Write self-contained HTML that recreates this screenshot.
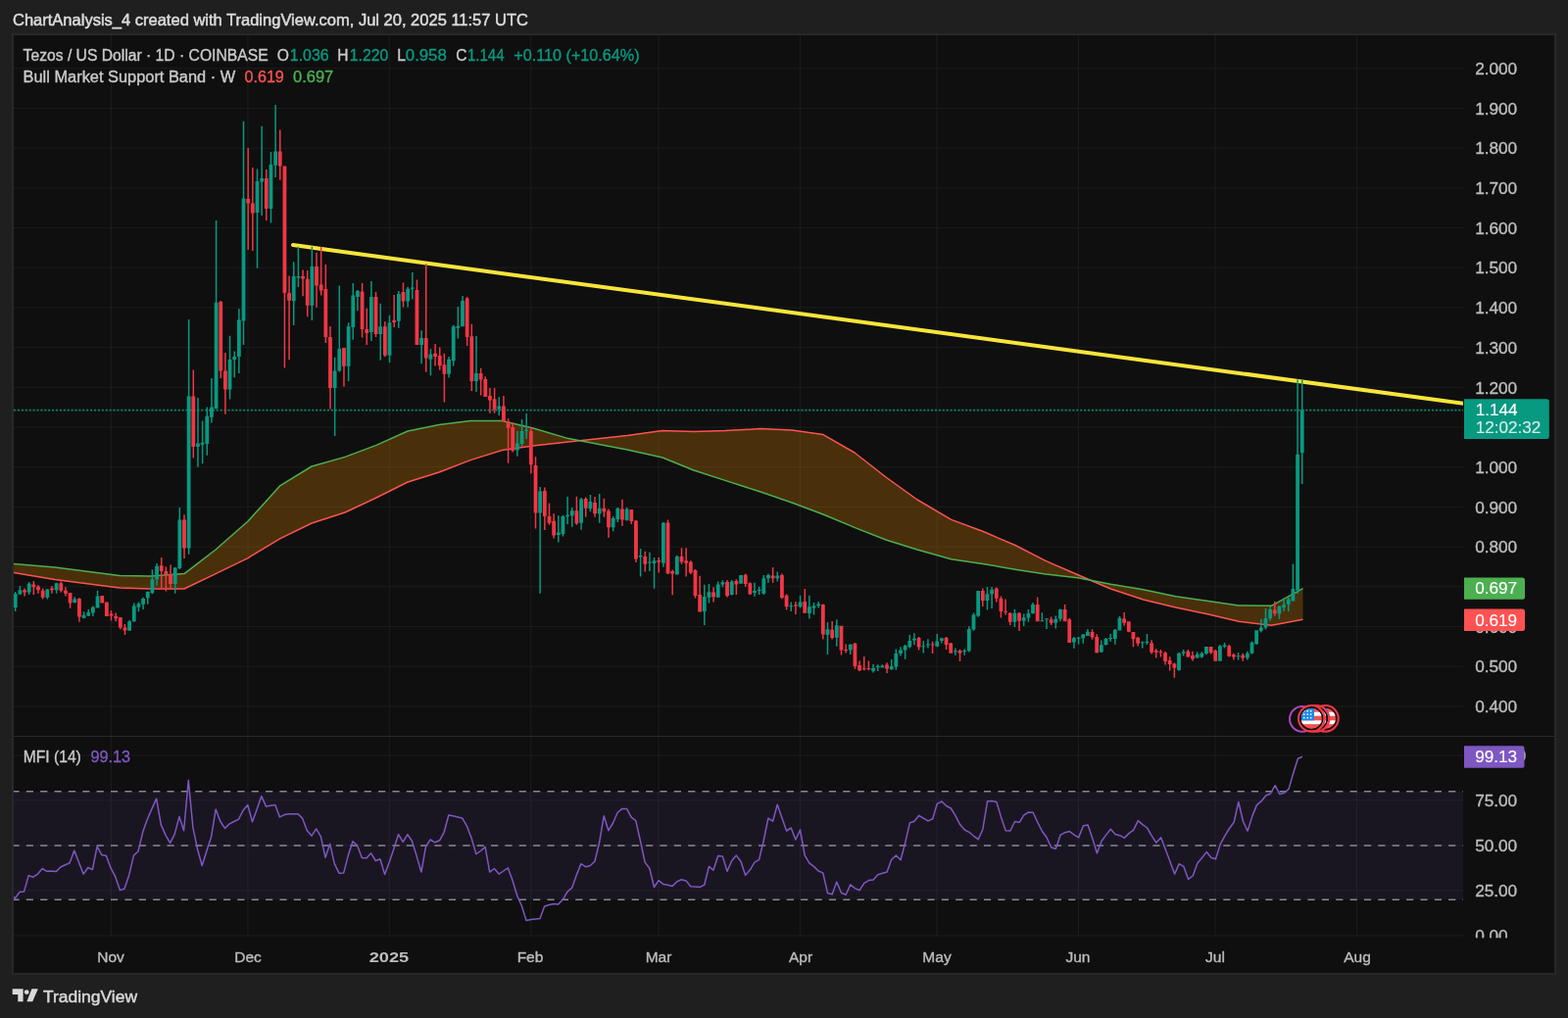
<!DOCTYPE html><html><head><meta charset="utf-8"><title>Tezos / US Dollar chart</title>
<style>
html,body{margin:0;padding:0;background:#1f1f1f;width:1600px;height:1039px;overflow:hidden}
svg{position:absolute;left:0;top:0;display:block}
text{font-family:"Liberation Sans", Arial, sans-serif}
.b{stroke-width:0.35px;paint-order:stroke}
</style></head><body>
<svg width="1600" height="1039" viewBox="0 0 1600 1039">
<defs>
<clipPath id="cp"><rect x="14" y="36" width="1479" height="715"/></clipPath>
<clipPath id="cm"><rect x="14" y="752" width="1479" height="205"/></clipPath>
<clipPath id="cma"><rect x="1493" y="752" width="93" height="205.29999999999995"/></clipPath>
</defs>
<rect x="0" y="0" width="1600" height="1039" fill="#1f1f1f"/>
<rect x="12" y="34" width="1576" height="961" fill="#282828"/>
<rect x="14" y="36" width="1572" height="957" fill="#0f0f0f"/>

<text x="13" y="26" font-size="16.5" fill="#dcdcdc" stroke="#dcdcdc" stroke-width="0.5" textLength="526" lengthAdjust="spacingAndGlyphs">ChartAnalysis_4 created with TradingView.com, Jul 20, 2025 11:57 UTC</text>
<path d="M14 720.84H1493 M14 680.15H1493 M14 639.46H1493 M14 598.77H1493 M14 558.08H1493 M14 517.39H1493 M14 476.70H1493 M14 436.01H1493 M14 395.32H1493 M14 354.63H1493 M14 313.94H1493 M14 273.25H1493 M14 232.56H1493 M14 191.87H1493 M14 151.18H1493 M14 110.49H1493 M14 69.80H1493 M14 954.9H1493 M14 908.9H1493 M14 862.9H1493 M14 816.9H1493 M14 770.9H1493 M113.30 36V955.5 M252.98 36V955.5 M397.32 36V955.5 M541.65 36V955.5 M672.02 36V955.5 M816.36 36V955.5 M956.04 36V955.5 M1100.37 36V955.5 M1240.05 36V955.5 M1384.39 36V955.5" stroke="#1d1d1d" stroke-width="1" fill="none"/>
<g clip-path="url(#cp)">
<polygon points="14.0,575.6 56.0,579.0 122.0,587.6 154.0,588.0 188.0,585.6 220.0,561.0 253.0,532.0 286.0,495.6 318.0,476.0 352.0,466.4 384.0,454.4 416.0,440.0 448.0,433.6 480.0,429.6 512.0,429.6 544.0,437.0 580.0,447.6 640.0,459.0 676.0,467.0 708.0,480.0 740.0,490.4 776.0,502.0 808.0,513.0 840.0,525.0 872.0,538.4 904.0,551.0 936.0,561.0 970.7,570.8 1002.8,575.5 1036.0,581.2 1066.9,586.0 1100.0,589.8 1133.4,596.2 1166.6,601.7 1199.9,608.8 1233.2,613.5 1264.0,618.0 1297.3,618.3 1329.5,600.6 1329.5,632.3 1297.3,638.3 1264.0,634.2 1233.2,627.0 1199.9,620.0 1166.6,612.0 1133.4,601.0 1100.0,586.7 1066.9,572.4 1036.0,556.5 1002.8,542.3 970.7,530.4 936.0,510.0 904.0,487.0 872.0,462.0 840.0,443.6 808.0,439.0 776.0,437.6 740.0,439.6 708.0,440.4 676.0,439.6 640.0,444.4 580.0,451.0 544.0,455.0 512.0,459.6 480.0,469.6 448.0,482.0 416.0,492.0 384.0,508.0 352.0,523.0 318.0,534.0 286.0,549.6 253.0,569.6 220.0,585.6 188.0,601.0 154.0,601.0 122.0,600.0 56.0,591.6 14.0,584.4" fill="#ff9800" fill-opacity="0.245"/>
<polyline points="14.0,584.4 56.0,591.6 122.0,600.0 154.0,601.0 188.0,601.0 220.0,585.6 253.0,569.6 286.0,549.6 318.0,534.0 352.0,523.0 384.0,508.0 416.0,492.0 448.0,482.0 480.0,469.6 512.0,459.6 544.0,455.0 580.0,451.0 640.0,444.4 676.0,439.6 708.0,440.4 740.0,439.6 776.0,437.6 808.0,439.0 840.0,443.6 872.0,462.0 904.0,487.0 936.0,510.0 970.7,530.4 1002.8,542.3 1036.0,556.5 1066.9,572.4 1100.0,586.7 1133.4,601.0 1166.6,612.0 1199.9,620.0 1233.2,627.0 1264.0,634.2 1297.3,638.3 1329.5,632.3" fill="none" stroke="#ff5252" stroke-width="1.5" stroke-linejoin="round"/>
<polyline points="14.0,575.6 56.0,579.0 122.0,587.6 154.0,588.0 188.0,585.6 220.0,561.0 253.0,532.0 286.0,495.6 318.0,476.0 352.0,466.4 384.0,454.4 416.0,440.0 448.0,433.6 480.0,429.6 512.0,429.6 544.0,437.0 580.0,447.6 640.0,459.0 676.0,467.0 708.0,480.0 740.0,490.4 776.0,502.0 808.0,513.0 840.0,525.0 872.0,538.4 904.0,551.0 936.0,561.0 970.7,570.8 1002.8,575.5 1036.0,581.2 1066.9,586.0 1100.0,589.8 1133.4,596.2 1166.6,601.7 1199.9,608.8 1233.2,613.5 1264.0,618.0 1297.3,618.3 1329.5,600.6" fill="none" stroke="#4caf50" stroke-width="1.5" stroke-linejoin="round"/>
<line x1="14" y1="418.6" x2="1493" y2="418.6" stroke="#089981" stroke-opacity="0.85" stroke-width="1.6" stroke-dasharray="2.2 1.7"/>
<line x1="299" y1="250.1" x2="1500" y2="412.8" stroke="#f9e53b" stroke-width="4" stroke-linecap="round"/>
<path d="M14.97 604.0h1.5V624.0h-1.5Z M13.82 606.0h3.8V620.0h-3.8Z M19.63 598.1h1.5V607.0h-1.5Z M18.48 602.2h3.8V606.5h-3.8Z M28.94 594.0h1.5V606.9h-1.5Z M27.79 595.8h3.8V604.5h-3.8Z M47.57 601.0h1.5V611.5h-1.5Z M46.42 601.6h3.8V609.8h-3.8Z M56.88 594.7h1.5V605.7h-1.5Z M55.73 595.2h3.8V602.2h-3.8Z M75.50 609.2h1.5V615.6h-1.5Z M74.35 611.5h3.8V615.0h-3.8Z M84.81 624.3h1.5V631.3h-1.5Z M83.66 627.8h3.8V630.7h-3.8Z M89.47 622.0h1.5V629.0h-1.5Z M88.32 624.9h3.8V628.4h-3.8Z M94.13 618.5h1.5V629.0h-1.5Z M92.98 619.7h3.8V625.5h-3.8Z M98.78 602.8h1.5V620.8h-1.5Z M97.63 608.6h3.8V620.2h-3.8Z M131.37 633.0h1.5V644.0h-1.5Z M130.22 634.2h3.8V643.5h-3.8Z M136.03 615.6h1.5V634.8h-1.5Z M134.88 618.5h3.8V634.2h-3.8Z M140.69 614.4h1.5V624.3h-1.5Z M139.54 616.2h3.8V619.7h-3.8Z M145.34 609.8h1.5V622.0h-1.5Z M144.19 611.0h3.8V616.7h-3.8Z M150.00 603.4h1.5V616.7h-1.5Z M148.85 604.0h3.8V610.3h-3.8Z M154.65 581.3h1.5V606.3h-1.5Z M153.50 591.2h3.8V605.1h-3.8Z M159.31 574.9h1.5V597.6h-1.5Z M158.16 577.8h3.8V591.2h-3.8Z M177.93 579.0h1.5V605.7h-1.5Z M176.78 579.5h3.8V596.0h-3.8Z M182.59 518.0h1.5V581.0h-1.5Z M181.44 530.5h3.8V580.0h-3.8Z M191.90 326.0h1.5V565.8h-1.5Z M190.75 404.6h3.8V559.4h-3.8Z M201.21 406.0h1.5V476.8h-1.5Z M200.06 452.5h3.8V456.0h-3.8Z M205.87 429.4h1.5V473.3h-1.5Z M204.72 451.7h3.8V453.7h-3.8Z M210.53 415.6h1.5V464.7h-1.5Z M209.38 424.8h3.8V453.0h-3.8Z M215.18 386.0h1.5V431.4h-1.5Z M214.03 415.6h3.8V425.7h-3.8Z M219.84 225.0h1.5V417.5h-1.5Z M218.69 308.7h3.8V417.0h-3.8Z M233.81 342.8h1.5V407.5h-1.5Z M232.66 367.0h3.8V397.6h-3.8Z M238.46 358.4h1.5V385.2h-1.5Z M237.31 364.0h3.8V367.0h-3.8Z M243.12 315.0h1.5V381.0h-1.5Z M241.97 326.6h3.8V364.0h-3.8Z M247.77 123.8h1.5V352.0h-1.5Z M246.62 202.5h3.8V327.5h-3.8Z M261.74 172.5h1.5V273.8h-1.5Z M260.59 185.0h3.8V217.0h-3.8Z M266.40 128.8h1.5V220.0h-1.5Z M265.25 182.0h3.8V185.5h-3.8Z M275.71 155.0h1.5V227.5h-1.5Z M274.56 168.0h3.8V213.0h-3.8Z M280.37 107.0h1.5V181.0h-1.5Z M279.22 154.5h3.8V168.8h-3.8Z M298.99 267.3h1.5V332.0h-1.5Z M297.84 282.0h3.8V307.3h-3.8Z M303.65 251.7h1.5V293.0h-1.5Z M302.50 282.0h3.8V283.4h-3.8Z M317.61 251.7h1.5V326.9h-1.5Z M316.46 272.0h3.8V311.7h-3.8Z M340.89 364.8h1.5V445.0h-1.5Z M339.74 378.4h3.8V396.0h-3.8Z M345.55 291.5h1.5V379.4h-1.5Z M344.40 356.0h3.8V378.4h-3.8Z M354.86 329.3h1.5V389.0h-1.5Z M353.71 333.3h3.8V373.7h-3.8Z M359.52 288.9h1.5V346.7h-1.5Z M358.37 301.6h3.8V334.0h-3.8Z M364.17 296.0h1.5V317.2h-1.5Z M363.02 297.0h3.8V303.0h-3.8Z M378.14 286.9h1.5V348.0h-1.5Z M376.99 303.0h3.8V339.0h-3.8Z M387.45 309.7h1.5V367.7h-1.5Z M386.30 333.3h3.8V341.0h-3.8Z M396.77 321.8h1.5V370.3h-1.5Z M395.62 329.3h3.8V362.8h-3.8Z M406.08 296.9h1.5V334.8h-1.5Z M404.93 300.0h3.8V327.8h-3.8Z M415.39 292.8h1.5V313.6h-1.5Z M414.24 294.8h3.8V307.6h-3.8Z M420.05 277.9h1.5V305.6h-1.5Z M418.90 293.4h3.8V294.8h-3.8Z M429.36 337.3h1.5V371.2h-1.5Z M428.21 345.0h3.8V352.0h-3.8Z M438.67 356.0h1.5V383.3h-1.5Z M437.52 361.5h3.8V366.8h-3.8Z M457.29 364.0h1.5V385.4h-1.5Z M456.14 366.8h3.8V381.7h-3.8Z M461.95 331.8h1.5V373.6h-1.5Z M460.80 333.2h3.8V368.2h-3.8Z M466.61 313.0h1.5V345.4h-1.5Z M465.46 332.8h3.8V334.8h-3.8Z M471.26 302.1h1.5V333.2h-1.5Z M470.11 307.0h3.8V333.2h-3.8Z M485.23 343.0h1.5V400.0h-1.5Z M484.08 381.0h3.8V389.0h-3.8Z M508.51 405.0h1.5V424.0h-1.5Z M507.36 414.6h3.8V417.7h-3.8Z M527.13 440.0h1.5V465.7h-1.5Z M525.98 452.5h3.8V459.6h-3.8Z M531.79 427.9h1.5V455.6h-1.5Z M530.64 440.0h3.8V453.0h-3.8Z M536.45 421.8h1.5V448.0h-1.5Z M535.30 438.8h3.8V440.0h-3.8Z M550.41 497.0h1.5V605.7h-1.5Z M549.26 501.4h3.8V523.6h-3.8Z M569.04 526.3h1.5V553.5h-1.5Z M567.89 543.4h3.8V545.9h-3.8Z M573.69 525.7h1.5V547.5h-1.5Z M572.54 526.9h3.8V545.0h-3.8Z M578.35 507.0h1.5V535.0h-1.5Z M577.20 525.7h3.8V526.9h-3.8Z M583.01 518.0h1.5V537.8h-1.5Z M581.86 521.2h3.8V526.3h-3.8Z M592.32 508.0h1.5V540.4h-1.5Z M591.17 509.5h3.8V533.7h-3.8Z M601.63 505.0h1.5V522.2h-1.5Z M600.48 512.0h3.8V519.2h-3.8Z M610.94 504.0h1.5V533.7h-1.5Z M609.79 518.8h3.8V524.2h-3.8Z M624.91 527.0h1.5V542.2h-1.5Z M623.76 528.9h3.8V538.3h-3.8Z M629.57 518.0h1.5V532.9h-1.5Z M628.42 518.8h3.8V530.3h-3.8Z M638.88 518.0h1.5V531.5h-1.5Z M637.73 519.5h3.8V531.0h-3.8Z M652.85 560.0h1.5V588.4h-1.5Z M651.70 567.0h3.8V568.6h-3.8Z M662.16 563.8h1.5V583.0h-1.5Z M661.01 573.4h3.8V574.4h-3.8Z M666.81 569.0h1.5V600.8h-1.5Z M665.66 572.2h3.8V575.0h-3.8Z M676.13 533.0h1.5V578.7h-1.5Z M674.98 533.5h3.8V574.8h-3.8Z M690.09 566.7h1.5V586.6h-1.5Z M688.94 567.9h3.8V586.4h-3.8Z M718.03 596.8h1.5V637.9h-1.5Z M716.88 609.0h3.8V623.9h-3.8Z M722.69 596.0h1.5V615.5h-1.5Z M721.54 604.3h3.8V609.7h-3.8Z M732.00 593.4h1.5V610.0h-1.5Z M730.85 596.6h3.8V609.8h-3.8Z M736.65 592.3h1.5V599.3h-1.5Z M735.50 594.3h3.8V596.6h-3.8Z M745.97 592.0h1.5V607.4h-1.5Z M744.82 593.4h3.8V607.1h-3.8Z M755.28 587.0h1.5V595.7h-1.5Z M754.13 587.0h3.8V595.7h-3.8Z M769.25 594.7h1.5V608.8h-1.5Z M768.10 603.0h3.8V605.0h-3.8Z M773.90 598.8h1.5V607.1h-1.5Z M772.75 601.8h3.8V603.0h-3.8Z M778.56 587.0h1.5V606.9h-1.5Z M777.41 590.3h3.8V605.8h-3.8Z M783.21 585.6h1.5V594.7h-1.5Z M782.06 587.0h3.8V590.3h-3.8Z M792.53 583.6h1.5V593.4h-1.5Z M791.38 587.6h3.8V590.3h-3.8Z M806.49 614.5h1.5V624.0h-1.5Z M805.34 618.2h3.8V619.3h-3.8Z M815.81 607.8h1.5V620.6h-1.5Z M814.66 614.5h3.8V619.3h-3.8Z M825.12 607.8h1.5V631.4h-1.5Z M823.97 619.3h3.8V626.0h-3.8Z M829.77 615.0h1.5V627.6h-1.5Z M828.62 618.2h3.8V620.6h-3.8Z M834.43 614.0h1.5V620.6h-1.5Z M833.28 616.6h3.8V618.2h-3.8Z M843.74 635.1h1.5V667.9h-1.5Z M842.59 642.2h3.8V648.1h-3.8Z M853.05 632.2h1.5V659.7h-1.5Z M851.90 638.3h3.8V650.8h-3.8Z M867.02 657.3h1.5V667.9h-1.5Z M865.87 657.7h3.8V663.5h-3.8Z M890.30 678.0h1.5V686.4h-1.5Z M889.15 681.8h3.8V684.7h-3.8Z M894.96 678.2h1.5V684.9h-1.5Z M893.81 679.7h3.8V681.3h-3.8Z M899.61 678.2h1.5V681.6h-1.5Z M898.46 679.4h3.8V681.3h-3.8Z M908.93 673.0h1.5V683.7h-1.5Z M907.78 680.0h3.8V683.3h-3.8Z M913.58 662.6h1.5V683.7h-1.5Z M912.43 666.9h3.8V680.4h-3.8Z M918.24 660.2h1.5V669.5h-1.5Z M917.09 663.5h3.8V666.9h-3.8Z M922.89 657.9h1.5V672.7h-1.5Z M921.74 658.9h3.8V663.5h-3.8Z M927.55 647.9h1.5V661.6h-1.5Z M926.40 654.0h3.8V660.2h-3.8Z M932.21 646.2h1.5V658.2h-1.5Z M931.06 651.8h3.8V653.4h-3.8Z M941.52 653.9h1.5V666.4h-1.5Z M940.37 659.2h3.8V660.2h-3.8Z M946.17 652.2h1.5V661.6h-1.5Z M945.02 657.6h3.8V658.6h-3.8Z M955.49 647.0h1.5V660.3h-1.5Z M954.34 654.5h3.8V659.8h-3.8Z M960.14 650.8h1.5V656.6h-1.5Z M958.99 651.6h3.8V654.0h-3.8Z M974.11 661.4h1.5V668.7h-1.5Z M972.96 664.3h3.8V665.3h-3.8Z M983.42 662.2h1.5V668.7h-1.5Z M982.27 664.1h3.8V665.1h-3.8Z M988.08 639.3h1.5V665.6h-1.5Z M986.93 642.0h3.8V664.3h-3.8Z M992.73 625.4h1.5V643.7h-1.5Z M991.58 627.5h3.8V642.5h-3.8Z M997.39 603.0h1.5V629.7h-1.5Z M996.24 603.0h3.8V628.5h-3.8Z M1006.70 598.9h1.5V622.5h-1.5Z M1005.55 606.2h3.8V612.9h-3.8Z M1011.36 598.9h1.5V621.0h-1.5Z M1010.21 601.7h3.8V606.2h-3.8Z M1034.64 621.8h1.5V639.9h-1.5Z M1033.49 625.8h3.8V634.8h-3.8Z M1043.95 626.6h1.5V639.1h-1.5Z M1042.80 630.2h3.8V633.8h-3.8Z M1048.61 622.0h1.5V634.8h-1.5Z M1047.46 626.1h3.8V630.4h-3.8Z M1053.26 615.0h1.5V626.6h-1.5Z M1052.11 617.1h3.8V626.1h-3.8Z M1062.57 625.2h1.5V634.2h-1.5Z M1061.42 633.2h3.8V634.2h-3.8Z M1067.23 631.3h1.5V641.9h-1.5Z M1066.08 631.3h3.8V632.3h-3.8Z M1076.54 628.4h1.5V641.6h-1.5Z M1075.39 631.8h3.8V635.8h-3.8Z M1081.20 621.4h1.5V634.2h-1.5Z M1080.05 622.0h3.8V631.8h-3.8Z M1095.17 649.9h1.5V661.8h-1.5Z M1094.02 651.2h3.8V655.6h-3.8Z M1099.82 650.0h1.5V657.7h-1.5Z M1098.67 650.8h3.8V651.8h-3.8Z M1104.48 647.0h1.5V656.8h-1.5Z M1103.33 647.4h3.8V651.2h-3.8Z M1109.13 641.9h1.5V649.1h-1.5Z M1107.98 644.8h3.8V648.9h-3.8Z M1123.10 653.4h1.5V665.9h-1.5Z M1121.95 658.2h3.8V665.6h-3.8Z M1127.76 651.0h1.5V658.5h-1.5Z M1126.61 652.0h3.8V658.2h-3.8Z M1132.41 647.0h1.5V654.7h-1.5Z M1131.26 651.0h3.8V652.0h-3.8Z M1137.07 641.9h1.5V657.7h-1.5Z M1135.92 642.8h3.8V652.0h-3.8Z M1141.73 629.0h1.5V643.5h-1.5Z M1140.58 630.8h3.8V643.5h-3.8Z M1165.01 654.4h1.5V661.6h-1.5Z M1163.86 655.3h3.8V656.3h-3.8Z M1169.66 647.0h1.5V658.1h-1.5Z M1168.51 654.8h3.8V656.0h-3.8Z M1202.25 665.8h1.5V684.6h-1.5Z M1201.10 666.8h3.8V684.1h-3.8Z M1206.91 662.9h1.5V669.5h-1.5Z M1205.76 665.3h3.8V666.8h-3.8Z M1220.88 665.3h1.5V671.8h-1.5Z M1219.73 667.7h3.8V671.6h-3.8Z M1225.53 665.3h1.5V671.6h-1.5Z M1224.38 666.8h3.8V670.6h-3.8Z M1230.19 660.0h1.5V668.2h-1.5Z M1229.04 660.0h3.8V667.0h-3.8Z M1244.16 657.9h1.5V674.7h-1.5Z M1243.01 659.6h3.8V674.7h-3.8Z M1248.81 656.0h1.5V661.5h-1.5Z M1247.66 658.6h3.8V659.9h-3.8Z M1262.78 666.0h1.5V673.5h-1.5Z M1261.63 669.2h3.8V670.2h-3.8Z M1272.09 664.7h1.5V673.5h-1.5Z M1270.94 666.8h3.8V671.6h-3.8Z M1276.75 654.5h1.5V667.6h-1.5Z M1275.60 655.7h3.8V666.8h-3.8Z M1281.41 643.2h1.5V658.1h-1.5Z M1280.26 643.2h3.8V657.2h-3.8Z M1286.06 632.0h1.5V645.5h-1.5Z M1284.91 640.4h3.8V643.8h-3.8Z M1290.72 620.9h1.5V642.6h-1.5Z M1289.57 631.0h3.8V640.4h-3.8Z M1295.37 619.0h1.5V633.7h-1.5Z M1294.22 622.1h3.8V631.2h-3.8Z M1304.69 618.3h1.5V631.7h-1.5Z M1303.54 618.7h3.8V626.4h-3.8Z M1309.34 610.5h1.5V623.7h-1.5Z M1308.19 617.3h3.8V619.9h-3.8Z M1314.00 609.6h1.5V624.0h-1.5Z M1312.85 611.5h3.8V616.8h-3.8Z M1318.65 575.6h1.5V613.4h-1.5Z M1317.50 600.9h3.8V613.4h-3.8Z M1323.31 387.3h1.5V606.0h-1.5Z M1322.16 463.8h3.8V602.4h-3.8Z M1327.97 387.4h1.5V494.0h-1.5Z M1326.82 418.3h3.8V462.3h-3.8Z" fill="#089981"/>
<path d="M24.29 600.5h1.5V608.6h-1.5Z M23.14 602.2h3.8V604.5h-3.8Z M33.60 592.9h1.5V606.9h-1.5Z M32.45 596.4h3.8V599.3h-3.8Z M38.25 597.0h1.5V605.7h-1.5Z M37.10 598.7h3.8V602.2h-3.8Z M42.91 600.5h1.5V611.5h-1.5Z M41.76 602.8h3.8V609.8h-3.8Z M52.22 598.0h1.5V605.7h-1.5Z M51.07 600.5h3.8V602.2h-3.8Z M61.53 593.5h1.5V604.5h-1.5Z M60.38 595.2h3.8V602.8h-3.8Z M66.19 599.3h1.5V608.6h-1.5Z M65.04 602.8h3.8V605.7h-3.8Z M70.85 605.0h1.5V620.8h-1.5Z M69.70 605.0h3.8V615.6h-3.8Z M80.16 610.3h1.5V634.8h-1.5Z M79.01 611.0h3.8V629.5h-3.8Z M103.44 608.0h1.5V615.6h-1.5Z M102.29 608.0h3.8V615.6h-3.8Z M108.09 614.4h1.5V629.0h-1.5Z M106.94 614.4h3.8V629.0h-3.8Z M112.75 623.0h1.5V633.6h-1.5Z M111.60 626.6h3.8V628.4h-3.8Z M117.41 625.5h1.5V634.2h-1.5Z M116.26 629.0h3.8V631.3h-3.8Z M122.06 630.1h1.5V642.3h-1.5Z M120.91 630.1h3.8V640.6h-3.8Z M126.72 637.0h1.5V648.0h-1.5Z M125.57 640.6h3.8V643.5h-3.8Z M163.97 569.0h1.5V601.6h-1.5Z M162.82 577.2h3.8V583.0h-3.8Z M168.62 578.4h1.5V603.4h-1.5Z M167.47 583.0h3.8V586.5h-3.8Z M173.28 576.6h1.5V600.5h-1.5Z M172.13 586.0h3.8V596.0h-3.8Z M187.25 525.3h1.5V570.0h-1.5Z M186.10 530.5h3.8V559.4h-3.8Z M196.56 377.4h1.5V467.5h-1.5Z M195.41 404.6h3.8V456.0h-3.8Z M224.49 307.0h1.5V386.0h-1.5Z M223.34 308.0h3.8V378.6h-3.8Z M229.15 360.0h1.5V422.8h-1.5Z M228.00 378.6h3.8V397.6h-3.8Z M252.43 151.0h1.5V255.0h-1.5Z M251.28 203.0h3.8V207.5h-3.8Z M257.09 171.0h1.5V256.0h-1.5Z M255.94 207.5h3.8V217.5h-3.8Z M271.05 173.0h1.5V225.0h-1.5Z M269.90 182.0h3.8V213.0h-3.8Z M285.02 132.5h1.5V183.8h-1.5Z M283.87 154.5h3.8V169.5h-3.8Z M289.68 169.5h1.5V375.4h-1.5Z M288.53 169.5h3.8V299.0h-3.8Z M294.33 281.4h1.5V367.3h-1.5Z M293.18 299.0h3.8V306.7h-3.8Z M308.30 275.4h1.5V302.2h-1.5Z M307.15 282.0h3.8V284.4h-3.8Z M312.96 276.0h1.5V323.2h-1.5Z M311.81 284.8h3.8V311.7h-3.8Z M322.27 257.8h1.5V313.7h-1.5Z M321.12 272.0h3.8V291.5h-3.8Z M326.93 252.0h1.5V301.6h-1.5Z M325.78 290.5h3.8V296.6h-3.8Z M331.58 270.0h1.5V350.0h-1.5Z M330.43 295.0h3.8V344.0h-3.8Z M336.24 333.0h1.5V417.4h-1.5Z M335.09 344.0h3.8V396.0h-3.8Z M350.21 355.0h1.5V394.5h-1.5Z M349.06 355.0h3.8V373.7h-3.8Z M368.83 289.0h1.5V344.6h-1.5Z M367.68 297.6h3.8V336.0h-3.8Z M373.49 314.7h1.5V352.0h-1.5Z M372.34 336.0h3.8V340.0h-3.8Z M382.80 298.0h1.5V344.0h-1.5Z M381.65 303.0h3.8V341.0h-3.8Z M392.11 327.9h1.5V364.2h-1.5Z M390.96 333.3h3.8V362.8h-3.8Z M401.42 301.0h1.5V334.0h-1.5Z M400.27 327.0h3.8V329.0h-3.8Z M410.73 288.4h1.5V313.6h-1.5Z M409.58 298.0h3.8V307.6h-3.8Z M424.70 285.4h1.5V352.0h-1.5Z M423.55 296.0h3.8V352.0h-3.8Z M434.01 269.2h1.5V379.7h-1.5Z M432.86 345.0h3.8V365.6h-3.8Z M443.33 351.0h1.5V373.6h-1.5Z M442.18 360.7h3.8V364.1h-3.8Z M447.98 354.6h1.5V377.7h-1.5Z M446.83 363.0h3.8V373.2h-3.8Z M452.64 360.7h1.5V410.6h-1.5Z M451.49 372.2h3.8V381.7h-3.8Z M475.92 303.0h1.5V353.0h-1.5Z M474.77 304.5h3.8V344.0h-3.8Z M480.57 330.8h1.5V399.0h-1.5Z M479.42 343.3h3.8V389.0h-3.8Z M489.89 375.7h1.5V403.5h-1.5Z M488.74 381.0h3.8V387.4h-3.8Z M494.54 384.3h1.5V405.0h-1.5Z M493.39 387.0h3.8V405.0h-3.8Z M499.20 395.9h1.5V421.7h-1.5Z M498.05 404.0h3.8V408.6h-3.8Z M503.85 396.0h1.5V421.7h-1.5Z M502.70 407.2h3.8V417.7h-3.8Z M513.17 404.0h1.5V430.3h-1.5Z M512.02 414.5h3.8V430.3h-3.8Z M517.82 427.3h1.5V472.7h-1.5Z M516.67 430.3h3.8V436.8h-3.8Z M522.48 431.3h1.5V461.6h-1.5Z M521.33 436.0h3.8V460.0h-3.8Z M541.10 436.0h1.5V483.2h-1.5Z M539.95 440.0h3.8V474.3h-3.8Z M545.76 466.3h1.5V539.4h-1.5Z M544.61 475.0h3.8V523.6h-3.8Z M555.07 497.4h1.5V541.0h-1.5Z M553.92 501.0h3.8V526.9h-3.8Z M559.73 513.5h1.5V535.8h-1.5Z M558.58 526.9h3.8V533.7h-3.8Z M564.38 524.2h1.5V549.5h-1.5Z M563.23 531.7h3.8V546.5h-3.8Z M587.66 506.7h1.5V535.8h-1.5Z M586.51 521.2h3.8V534.3h-3.8Z M596.97 507.5h1.5V527.7h-1.5Z M595.82 509.0h3.8V518.8h-3.8Z M606.29 507.0h1.5V527.7h-1.5Z M605.14 513.0h3.8V524.2h-3.8Z M615.60 508.7h1.5V527.7h-1.5Z M614.45 518.8h3.8V522.2h-3.8Z M620.25 519.5h1.5V548.8h-1.5Z M619.10 521.5h3.8V538.3h-3.8Z M634.22 509.8h1.5V536.8h-1.5Z M633.07 519.5h3.8V530.6h-3.8Z M643.53 520.0h1.5V535.0h-1.5Z M642.38 520.0h3.8V532.0h-3.8Z M648.19 531.0h1.5V574.0h-1.5Z M647.04 531.5h3.8V570.5h-3.8Z M657.50 562.8h1.5V583.5h-1.5Z M656.35 568.0h3.8V575.8h-3.8Z M671.47 569.0h1.5V584.5h-1.5Z M670.32 571.9h3.8V573.6h-3.8Z M680.78 530.6h1.5V586.0h-1.5Z M679.63 533.5h3.8V585.2h-3.8Z M685.44 581.6h1.5V607.2h-1.5Z M684.29 583.0h3.8V585.5h-3.8Z M694.75 559.2h1.5V575.8h-1.5Z M693.60 567.9h3.8V573.6h-3.8Z M699.41 559.2h1.5V588.4h-1.5Z M698.26 572.2h3.8V574.8h-3.8Z M704.06 572.2h1.5V586.0h-1.5Z M702.91 573.4h3.8V584.5h-3.8Z M708.72 580.9h1.5V610.5h-1.5Z M707.57 582.0h3.8V608.0h-3.8Z M713.37 587.8h1.5V624.5h-1.5Z M712.22 607.1h3.8V624.5h-3.8Z M727.34 599.3h1.5V614.5h-1.5Z M726.19 604.4h3.8V609.2h-3.8Z M741.31 592.0h1.5V609.6h-1.5Z M740.16 594.0h3.8V608.2h-3.8Z M750.62 591.2h1.5V607.1h-1.5Z M749.47 593.0h3.8V596.4h-3.8Z M759.93 585.6h1.5V599.0h-1.5Z M758.78 586.7h3.8V596.0h-3.8Z M764.59 594.3h1.5V606.9h-1.5Z M763.44 595.3h3.8V606.5h-3.8Z M787.87 578.9h1.5V594.7h-1.5Z M786.72 587.6h3.8V590.3h-3.8Z M797.18 585.6h1.5V611.2h-1.5Z M796.03 587.0h3.8V610.1h-3.8Z M801.84 606.5h1.5V622.6h-1.5Z M800.69 607.8h3.8V619.3h-3.8Z M811.15 613.9h1.5V627.0h-1.5Z M810.00 617.2h3.8V618.6h-3.8Z M820.46 601.0h1.5V625.7h-1.5Z M819.31 613.9h3.8V625.7h-3.8Z M839.09 616.4h1.5V652.5h-1.5Z M837.94 617.1h3.8V647.6h-3.8Z M848.40 633.9h1.5V652.5h-1.5Z M847.25 642.8h3.8V651.0h-3.8Z M857.71 638.7h1.5V668.5h-1.5Z M856.56 638.7h3.8V663.5h-3.8Z M862.37 657.6h1.5V666.6h-1.5Z M861.22 663.0h3.8V664.0h-3.8Z M871.68 656.0h1.5V682.8h-1.5Z M870.53 656.8h3.8V679.9h-3.8Z M876.33 674.6h1.5V684.9h-1.5Z M875.18 679.1h3.8V684.2h-3.8Z M880.99 670.0h1.5V684.2h-1.5Z M879.84 682.3h3.8V683.3h-3.8Z M885.65 674.6h1.5V684.2h-1.5Z M884.50 682.0h3.8V683.0h-3.8Z M904.27 676.2h1.5V687.1h-1.5Z M903.12 678.4h3.8V682.6h-3.8Z M936.86 650.0h1.5V663.5h-1.5Z M935.71 651.0h3.8V660.6h-3.8Z M950.83 654.7h1.5V667.0h-1.5Z M949.68 657.4h3.8V658.5h-3.8Z M964.80 649.9h1.5V663.0h-1.5Z M963.65 651.0h3.8V657.9h-3.8Z M969.45 656.0h1.5V666.8h-1.5Z M968.30 656.4h3.8V666.8h-3.8Z M978.77 662.7h1.5V674.9h-1.5Z M977.62 663.9h3.8V666.5h-3.8Z M1002.05 600.4h1.5V619.0h-1.5Z M1000.90 603.0h3.8V612.9h-3.8Z M1016.01 599.4h1.5V614.5h-1.5Z M1014.86 600.4h3.8V610.7h-3.8Z M1020.67 608.5h1.5V630.4h-1.5Z M1019.52 610.7h3.8V623.9h-3.8Z M1025.33 611.4h1.5V627.5h-1.5Z M1024.18 623.7h3.8V624.7h-3.8Z M1029.98 625.1h1.5V638.1h-1.5Z M1028.83 625.8h3.8V634.8h-3.8Z M1039.29 625.1h1.5V643.9h-1.5Z M1038.14 625.8h3.8V633.8h-3.8Z M1057.92 609.6h1.5V634.3h-1.5Z M1056.77 617.1h3.8V634.3h-3.8Z M1071.89 629.4h1.5V638.0h-1.5Z M1070.74 632.2h3.8V635.8h-3.8Z M1085.85 617.1h1.5V634.2h-1.5Z M1084.70 622.0h3.8V634.2h-3.8Z M1090.51 631.0h1.5V656.0h-1.5Z M1089.36 632.2h3.8V656.0h-3.8Z M1113.79 642.2h1.5V652.7h-1.5Z M1112.64 645.0h3.8V650.5h-3.8Z M1118.45 647.2h1.5V666.6h-1.5Z M1117.30 649.9h3.8V666.2h-3.8Z M1146.38 625.0h1.5V638.5h-1.5Z M1145.23 631.6h3.8V635.8h-3.8Z M1151.04 634.2h1.5V645.3h-1.5Z M1149.89 634.2h3.8V644.8h-3.8Z M1155.69 645.0h1.5V660.2h-1.5Z M1154.54 645.0h3.8V652.2h-3.8Z M1160.35 650.0h1.5V659.5h-1.5Z M1159.20 650.8h3.8V656.8h-3.8Z M1174.32 653.3h1.5V667.6h-1.5Z M1173.17 656.2h3.8V665.8h-3.8Z M1178.97 662.2h1.5V671.6h-1.5Z M1177.82 664.1h3.8V665.8h-3.8Z M1183.63 663.1h1.5V670.4h-1.5Z M1182.48 664.9h3.8V666.0h-3.8Z M1188.29 664.9h1.5V678.5h-1.5Z M1187.14 666.3h3.8V675.0h-3.8Z M1192.94 670.2h1.5V684.6h-1.5Z M1191.79 674.0h3.8V678.1h-3.8Z M1197.60 676.4h1.5V691.8h-1.5Z M1196.45 677.4h3.8V681.7h-3.8Z M1211.57 662.9h1.5V670.8h-1.5Z M1210.42 664.7h3.8V670.6h-3.8Z M1216.22 664.7h1.5V674.5h-1.5Z M1215.07 668.9h3.8V672.4h-3.8Z M1234.85 660.0h1.5V667.6h-1.5Z M1233.70 660.0h3.8V666.3h-3.8Z M1239.50 662.9h1.5V674.7h-1.5Z M1238.35 663.9h3.8V674.7h-3.8Z M1253.47 658.1h1.5V670.6h-1.5Z M1252.32 659.3h3.8V669.7h-3.8Z M1258.13 666.8h1.5V673.5h-1.5Z M1256.98 668.2h3.8V670.6h-3.8Z M1267.44 666.8h1.5V674.7h-1.5Z M1266.29 668.7h3.8V671.6h-3.8Z M1300.03 614.1h1.5V628.8h-1.5Z M1298.88 622.6h3.8V626.0h-3.8Z" fill="#f23645"/>
</g>
<g clip-path="url(#cm)">
<rect x="14" y="807.8" width="1479" height="110.4" fill="#7e57c2" fill-opacity="0.1"/>
<line x1="12.4" y1="807.8" x2="1493" y2="807.8" stroke="#858896" stroke-width="1.6" stroke-dasharray="7.2 7.17"/>
<line x1="12.4" y1="863.0" x2="1493" y2="863.0" stroke="#858896" stroke-width="1.6" stroke-dasharray="7.2 7.17"/>
<line x1="12.4" y1="918.2" x2="1493" y2="918.2" stroke="#858896" stroke-width="1.6" stroke-dasharray="7.2 7.17"/>
<polyline points="10.6,912.0 15.2,917.0 19.9,910.6 24.5,910.1 29.2,893.6 33.9,895.2 38.5,892.1 43.2,886.5 47.8,889.3 52.5,889.0 57.2,889.6 61.8,885.0 66.5,882.8 71.1,880.8 75.8,868.1 80.4,880.0 85.1,892.1 89.8,885.5 94.4,887.5 99.1,863.9 103.7,872.4 108.4,873.6 113.1,886.2 117.7,894.7 122.4,908.6 127.0,907.0 131.7,893.2 136.4,873.1 141.0,869.0 145.7,849.3 150.3,836.2 155.0,825.4 159.6,815.1 164.3,841.6 169.0,852.4 173.6,860.4 178.3,851.1 182.9,833.6 187.6,847.7 192.3,796.2 196.9,844.7 201.6,867.0 206.2,883.5 210.9,868.5 215.6,853.9 220.2,825.9 224.9,838.5 229.5,845.4 234.2,840.8 238.8,838.5 243.5,836.2 248.2,827.0 252.8,821.6 257.5,838.8 262.1,826.2 266.8,812.6 271.5,823.1 276.1,822.3 280.8,821.6 285.4,833.9 290.1,831.6 294.8,830.8 299.4,830.8 304.1,830.8 308.7,835.4 313.4,847.7 318.0,853.1 322.7,845.9 327.4,853.9 332.0,875.2 336.7,861.3 341.3,881.6 346.0,891.2 350.7,890.9 355.3,873.1 360.0,858.8 364.6,863.1 369.3,875.5 374.0,875.8 378.6,870.8 383.3,878.5 387.9,876.7 392.6,892.4 397.2,880.1 401.9,866.2 406.6,851.6 411.2,859.3 415.9,851.6 420.5,858.5 425.2,873.9 429.9,890.1 434.5,863.9 439.2,857.0 443.8,859.8 448.5,857.8 453.2,849.3 457.8,832.0 462.5,832.7 467.1,833.9 471.8,835.1 476.4,843.1 481.1,855.4 485.8,871.6 490.4,868.5 495.1,864.4 499.7,890.1 504.4,886.5 509.1,892.1 513.7,889.0 518.4,885.9 523.0,898.6 527.7,914.0 532.4,924.7 537.0,939.4 541.7,938.6 546.3,938.0 551.0,937.4 555.6,925.0 560.3,923.5 565.0,922.4 569.6,922.9 574.3,918.3 578.9,910.1 583.6,906.2 588.3,893.0 592.9,881.6 597.6,884.7 602.2,883.5 606.9,879.3 611.6,859.8 616.2,832.7 620.9,847.7 625.5,840.0 630.2,829.3 634.8,825.4 639.5,825.4 644.2,834.2 648.8,837.7 653.5,858.5 658.1,880.1 662.8,886.2 667.5,905.5 672.1,898.6 676.8,902.4 681.4,903.2 686.1,904.4 690.8,899.8 695.4,897.8 700.1,898.9 704.7,904.7 709.4,905.0 714.0,905.5 718.7,903.2 723.4,884.4 728.0,888.1 732.7,873.6 737.3,873.9 742.0,889.3 746.7,878.5 751.3,873.1 756.0,879.3 760.6,893.2 765.3,887.8 770.0,880.1 774.6,877.3 779.3,857.5 783.9,835.1 788.6,838.2 793.2,821.3 797.9,834.8 802.6,848.0 807.2,845.0 811.9,857.0 816.5,847.0 821.2,873.1 825.9,880.8 830.5,884.4 835.2,889.0 839.8,890.9 844.5,911.6 849.2,912.7 853.8,900.1 858.5,911.2 863.1,913.3 867.8,902.9 872.4,906.6 877.1,908.7 881.8,901.3 886.4,898.6 891.1,897.9 895.7,892.7 900.4,891.3 905.1,890.1 909.7,877.3 914.4,873.1 919.0,877.8 923.7,860.1 928.4,839.7 933.0,838.2 937.7,832.3 942.3,835.1 947.0,837.9 951.7,835.7 956.3,820.3 961.0,818.0 965.6,822.5 970.3,825.0 974.9,832.3 979.6,841.6 984.3,847.0 988.9,849.3 993.6,853.3 998.2,856.7 1002.9,846.2 1007.6,817.7 1012.2,817.6 1016.9,818.5 1021.5,833.9 1026.2,847.7 1030.9,848.0 1035.5,838.5 1040.2,839.3 1044.8,831.9 1049.5,829.0 1054.1,829.3 1058.8,839.3 1063.5,848.5 1068.1,854.7 1072.8,865.0 1077.4,866.2 1082.1,852.1 1086.8,849.7 1091.4,848.5 1096.1,852.1 1100.7,854.8 1105.4,842.8 1110.1,841.9 1114.7,855.4 1119.4,870.8 1124.0,858.5 1128.7,852.1 1133.3,846.2 1138.0,851.6 1142.7,852.7 1147.3,855.1 1152.0,850.6 1156.6,847.2 1161.3,837.6 1166.0,841.6 1170.6,845.0 1175.3,853.1 1179.9,860.1 1184.6,854.7 1189.3,867.0 1193.9,879.3 1198.6,892.1 1203.2,881.6 1207.9,884.4 1212.5,897.3 1217.2,894.0 1221.9,880.9 1226.5,875.5 1231.2,869.6 1235.8,875.2 1240.5,876.7 1245.2,861.6 1249.8,853.1 1254.5,845.5 1259.1,839.3 1263.8,818.5 1268.5,838.5 1273.1,848.1 1277.8,833.1 1282.4,821.6 1287.1,817.7 1291.7,812.0 1296.4,810.0 1301.1,801.6 1305.7,810.5 1310.4,809.3 1315.0,805.4 1319.7,789.3 1324.4,774.2 1329.0,772.3" fill="none" stroke="#7e57c2" stroke-width="1.5" stroke-linejoin="round"/>
</g>
<rect x="14" y="751" width="1572" height="1" fill="#2a2a2a"/>
<text class="b" x="23.6" y="61.7" font-size="15.6" fill="#cacaca" stroke="#cacaca"  textLength="250" lengthAdjust="spacingAndGlyphs">Tezos / US Dollar · 1D · COINBASE</text>
<text class="b" x="282.8" y="61.7" font-size="15.6" fill="#cacaca" stroke="#cacaca" >O</text>
<text class="b" x="295.8" y="61.7" font-size="15.6" fill="#089981" stroke="#089981"  textLength="39.8" lengthAdjust="spacingAndGlyphs">1.036</text>
<text class="b" x="344.2" y="61.7" font-size="15.6" fill="#cacaca" stroke="#cacaca" >H</text>
<text class="b" x="356.8" y="61.7" font-size="15.6" fill="#089981" stroke="#089981"  textLength="39.4" lengthAdjust="spacingAndGlyphs">1.220</text>
<text class="b" x="405.2" y="61.7" font-size="15.6" fill="#cacaca" stroke="#cacaca" >L</text>
<text class="b" x="413.8" y="61.7" font-size="15.6" fill="#089981" stroke="#089981"  textLength="42" lengthAdjust="spacingAndGlyphs">0.958</text>
<text class="b" x="465.2" y="61.7" font-size="15.6" fill="#cacaca" stroke="#cacaca" >C</text>
<text class="b" x="476.9" y="61.7" font-size="15.6" fill="#089981" stroke="#089981"  textLength="37.6" lengthAdjust="spacingAndGlyphs">1.144</text>
<text class="b" x="524.3" y="61.7" font-size="15.6" fill="#089981" stroke="#089981"  textLength="128.3" lengthAdjust="spacingAndGlyphs">+0.110 (+10.64%)</text>
<text class="b" x="23.6" y="83.6" font-size="15.6" fill="#cacaca" stroke="#cacaca"  textLength="216.6" lengthAdjust="spacingAndGlyphs">Bull Market Support Band · W</text>
<text class="b" x="249.5" y="83.6" font-size="15.6" fill="#ff5252" stroke="#ff5252"  textLength="40.3" lengthAdjust="spacingAndGlyphs">0.619</text>
<text class="b" x="299" y="83.6" font-size="15.6" fill="#4caf50" stroke="#4caf50"  textLength="41.2" lengthAdjust="spacingAndGlyphs">0.697</text>
<text class="b" x="23.8" y="777.8" font-size="15.6" fill="#cacaca" stroke="#cacaca"  textLength="59" lengthAdjust="spacingAndGlyphs">MFI (14)</text>
<text class="b" x="92.6" y="777.8" font-size="15.6" fill="#7e57c2" stroke="#7e57c2"  textLength="40.5" lengthAdjust="spacingAndGlyphs">99.13</text>
<text class="b" stroke="#bdbdbd" x="1505.2" y="727.0" font-size="16" fill="#bdbdbd" textLength="43" lengthAdjust="spacingAndGlyphs">0.400</text>
<text class="b" stroke="#bdbdbd" x="1505.2" y="686.3" font-size="16" fill="#bdbdbd" textLength="43" lengthAdjust="spacingAndGlyphs">0.500</text>
<text class="b" stroke="#bdbdbd" x="1505.2" y="645.7" font-size="16" fill="#bdbdbd" textLength="43" lengthAdjust="spacingAndGlyphs">0.600</text>
<text class="b" stroke="#bdbdbd" x="1505.2" y="605.0" font-size="16" fill="#bdbdbd" textLength="43" lengthAdjust="spacingAndGlyphs">0.700</text>
<text class="b" stroke="#bdbdbd" x="1505.2" y="564.3" font-size="16" fill="#bdbdbd" textLength="43" lengthAdjust="spacingAndGlyphs">0.800</text>
<text class="b" stroke="#bdbdbd" x="1505.2" y="523.6" font-size="16" fill="#bdbdbd" textLength="43" lengthAdjust="spacingAndGlyphs">0.900</text>
<text class="b" stroke="#bdbdbd" x="1505.2" y="482.9" font-size="16" fill="#bdbdbd" textLength="43" lengthAdjust="spacingAndGlyphs">1.000</text>
<text class="b" stroke="#bdbdbd" x="1505.2" y="442.2" font-size="16" fill="#bdbdbd" textLength="43" lengthAdjust="spacingAndGlyphs">1.100</text>
<text class="b" stroke="#bdbdbd" x="1505.2" y="401.5" font-size="16" fill="#bdbdbd" textLength="43" lengthAdjust="spacingAndGlyphs">1.200</text>
<text class="b" stroke="#bdbdbd" x="1505.2" y="360.8" font-size="16" fill="#bdbdbd" textLength="43" lengthAdjust="spacingAndGlyphs">1.300</text>
<text class="b" stroke="#bdbdbd" x="1505.2" y="320.1" font-size="16" fill="#bdbdbd" textLength="43" lengthAdjust="spacingAndGlyphs">1.400</text>
<text class="b" stroke="#bdbdbd" x="1505.2" y="279.4" font-size="16" fill="#bdbdbd" textLength="43" lengthAdjust="spacingAndGlyphs">1.500</text>
<text class="b" stroke="#bdbdbd" x="1505.2" y="238.8" font-size="16" fill="#bdbdbd" textLength="43" lengthAdjust="spacingAndGlyphs">1.600</text>
<text class="b" stroke="#bdbdbd" x="1505.2" y="198.1" font-size="16" fill="#bdbdbd" textLength="43" lengthAdjust="spacingAndGlyphs">1.700</text>
<text class="b" stroke="#bdbdbd" x="1505.2" y="157.4" font-size="16" fill="#bdbdbd" textLength="43" lengthAdjust="spacingAndGlyphs">1.800</text>
<text class="b" stroke="#bdbdbd" x="1505.2" y="116.7" font-size="16" fill="#bdbdbd" textLength="43" lengthAdjust="spacingAndGlyphs">1.900</text>
<text class="b" stroke="#bdbdbd" x="1505.2" y="76.0" font-size="16" fill="#bdbdbd" textLength="43" lengthAdjust="spacingAndGlyphs">2.000</text>
<g clip-path="url(#cma)">
<text class="b" stroke="#bdbdbd" x="1505.2" y="777.2" font-size="16" fill="#bdbdbd" textLength="52" lengthAdjust="spacingAndGlyphs">100.00</text>
<text class="b" stroke="#bdbdbd" x="1505.2" y="823.2" font-size="16" fill="#bdbdbd" textLength="43" lengthAdjust="spacingAndGlyphs">75.00</text>
<text class="b" stroke="#bdbdbd" x="1505.2" y="869.2" font-size="16" fill="#bdbdbd" textLength="43" lengthAdjust="spacingAndGlyphs">50.00</text>
<text class="b" stroke="#bdbdbd" x="1505.2" y="915.2" font-size="16" fill="#bdbdbd" textLength="43" lengthAdjust="spacingAndGlyphs">25.00</text>
<text class="b" stroke="#bdbdbd" x="1505.2" y="961.2" font-size="16" fill="#bdbdbd" textLength="33.5" lengthAdjust="spacingAndGlyphs">0.00</text>
</g>
<path d="M1494 407.3h84.3a2.5 2.5 0 0 1 2.5 2.5v35.8a2.5 2.5 0 0 1 -2.5 2.5h-84.3z" fill="#089981"/>
<text x="1505.8" y="423.9" font-size="16" fill="#ffffff" stroke="#ffffff" stroke-width="0.15" textLength="42.8" lengthAdjust="spacingAndGlyphs">1.144</text>
<text x="1505.8" y="442.2" font-size="16" fill="#d4ece8" stroke="#d4ece8" stroke-width="0.15" textLength="66.4" lengthAdjust="spacingAndGlyphs">12:02:32</text>
<path d="M1494 589.4h59.5a2.5 2.5 0 0 1 2.5 2.5v17.4a2.5 2.5 0 0 1 -2.5 2.5h-59.5z" fill="#4caf50"/>
<text x="1505.3" y="606.4" font-size="16" fill="#ffffff" stroke="#ffffff" stroke-width="0.15" textLength="42.8" lengthAdjust="spacingAndGlyphs">0.697</text>
<path d="M1494 621.6h59.5a2.5 2.5 0 0 1 2.5 2.5v17.4a2.5 2.5 0 0 1 -2.5 2.5h-59.5z" fill="#ff5252"/>
<text x="1505.3" y="638.6" font-size="16" fill="#ffffff" stroke="#ffffff" stroke-width="0.15" textLength="42.8" lengthAdjust="spacingAndGlyphs">0.619</text>
<path d="M1494 761.3h59.0a2.5 2.5 0 0 1 2.5 2.5v17.4a2.5 2.5 0 0 1 -2.5 2.5h-59.0z" fill="#7e57c2"/>
<text x="1505.3" y="778.3" font-size="16" fill="#ffffff" stroke="#ffffff" stroke-width="0.15" textLength="42.8" lengthAdjust="spacingAndGlyphs">99.13</text>
<text class="b" stroke="#bdbdbd" x="113" y="982" font-size="15.5" fill="#bdbdbd" text-anchor="middle">Nov</text>
<text class="b" stroke="#bdbdbd" x="253" y="982" font-size="15.5" fill="#bdbdbd" text-anchor="middle">Dec</text>
<text x="397" y="982" font-size="15.5" fill="#bdbdbd" text-anchor="middle" font-weight="bold" textLength="40.5" lengthAdjust="spacingAndGlyphs">2025</text>
<text class="b" stroke="#bdbdbd" x="541" y="982" font-size="15.5" fill="#bdbdbd" text-anchor="middle">Feb</text>
<text class="b" stroke="#bdbdbd" x="672" y="982" font-size="15.5" fill="#bdbdbd" text-anchor="middle">Mar</text>
<text class="b" stroke="#bdbdbd" x="817" y="982" font-size="15.5" fill="#bdbdbd" text-anchor="middle">Apr</text>
<text class="b" stroke="#bdbdbd" x="956" y="982" font-size="15.5" fill="#bdbdbd" text-anchor="middle">May</text>
<text class="b" stroke="#bdbdbd" x="1100" y="982" font-size="15.5" fill="#bdbdbd" text-anchor="middle">Jun</text>
<text class="b" stroke="#bdbdbd" x="1240" y="982" font-size="15.5" fill="#bdbdbd" text-anchor="middle">Jul</text>
<text class="b" stroke="#bdbdbd" x="1385" y="982" font-size="15.5" fill="#bdbdbd" text-anchor="middle">Aug</text>
<circle cx="1328.9" cy="733.8" r="12.9" fill="none" stroke="#ab47bc" stroke-width="2"/>
<clipPath id="fc"><circle cx="1352.4" cy="733.3" r="10.6"/></clipPath><circle cx="1352.4" cy="733.3" r="12.2" fill="#0f0f0f"/><g clip-path="url(#fc)"><rect x="1341.8000000000002" y="722.6999999999999" width="21.2" height="21.2" fill="#ef5350"/><rect x="1341.8000000000002" y="726.7" width="21.2" height="4" fill="#ffffff"/><rect x="1341.8000000000002" y="735.3" width="21.2" height="3.8" fill="#ffffff"/><rect x="1341.8000000000002" y="722.6999999999999" width="13.3" height="12.6" fill="#1e88e5"/><circle cx="1344.8" cy="725.7" r="0.9" fill="#ffffff"/><circle cx="1348.3" cy="725.7" r="0.9" fill="#ffffff"/><circle cx="1351.7" cy="725.7" r="0.9" fill="#ffffff"/><circle cx="1344.8" cy="729.1" r="0.9" fill="#ffffff"/><circle cx="1348.3" cy="729.1" r="0.9" fill="#ffffff"/><circle cx="1351.7" cy="729.1" r="0.9" fill="#ffffff"/><circle cx="1344.8" cy="732.6" r="0.9" fill="#ffffff"/><circle cx="1348.3" cy="732.6" r="0.9" fill="#ffffff"/><circle cx="1351.7" cy="732.6" r="0.9" fill="#ffffff"/></g><circle cx="1352.4" cy="733.3" r="13.3" fill="none" stroke="#f23645" stroke-width="2.1"/>
<clipPath id="fb"><circle cx="1343.0" cy="733.3" r="10.6"/></clipPath><circle cx="1343.0" cy="733.3" r="12.2" fill="#0f0f0f"/><g clip-path="url(#fb)"><rect x="1332.4" y="722.6999999999999" width="21.2" height="21.2" fill="#ef5350"/><rect x="1332.4" y="726.7" width="21.2" height="4" fill="#ffffff"/><rect x="1332.4" y="735.3" width="21.2" height="3.8" fill="#ffffff"/><rect x="1332.4" y="722.6999999999999" width="13.3" height="12.6" fill="#1e88e5"/><circle cx="1335.4" cy="725.7" r="0.9" fill="#ffffff"/><circle cx="1338.9" cy="725.7" r="0.9" fill="#ffffff"/><circle cx="1342.3" cy="725.7" r="0.9" fill="#ffffff"/><circle cx="1335.4" cy="729.1" r="0.9" fill="#ffffff"/><circle cx="1338.9" cy="729.1" r="0.9" fill="#ffffff"/><circle cx="1342.3" cy="729.1" r="0.9" fill="#ffffff"/><circle cx="1335.4" cy="732.6" r="0.9" fill="#ffffff"/><circle cx="1338.9" cy="732.6" r="0.9" fill="#ffffff"/><circle cx="1342.3" cy="732.6" r="0.9" fill="#ffffff"/></g><circle cx="1343.0" cy="733.3" r="13.3" fill="none" stroke="#f23645" stroke-width="2.1"/>
<clipPath id="fa"><circle cx="1338.3" cy="733.3" r="10.6"/></clipPath><circle cx="1338.3" cy="733.3" r="12.2" fill="#0f0f0f"/><g clip-path="url(#fa)"><rect x="1327.7" y="722.6999999999999" width="21.2" height="21.2" fill="#ef5350"/><rect x="1327.7" y="726.7" width="21.2" height="4" fill="#ffffff"/><rect x="1327.7" y="735.3" width="21.2" height="3.8" fill="#ffffff"/><rect x="1327.7" y="722.6999999999999" width="13.3" height="12.6" fill="#1e88e5"/><circle cx="1330.7" cy="725.7" r="0.9" fill="#ffffff"/><circle cx="1334.2" cy="725.7" r="0.9" fill="#ffffff"/><circle cx="1337.6" cy="725.7" r="0.9" fill="#ffffff"/><circle cx="1330.7" cy="729.1" r="0.9" fill="#ffffff"/><circle cx="1334.2" cy="729.1" r="0.9" fill="#ffffff"/><circle cx="1337.6" cy="729.1" r="0.9" fill="#ffffff"/><circle cx="1330.7" cy="732.6" r="0.9" fill="#ffffff"/><circle cx="1334.2" cy="732.6" r="0.9" fill="#ffffff"/><circle cx="1337.6" cy="732.6" r="0.9" fill="#ffffff"/></g><circle cx="1338.3" cy="733.3" r="13.3" fill="none" stroke="#f23645" stroke-width="2.1"/>
<g fill="#d9d9d9">
<path d="M12.7 1009.2h10.9v13h-5.3v-7.3h-5.6z"/>
<circle cx="27.2" cy="1012.6" r="2.4"/>
<path d="M32.4 1009.2h6.4l-5.6 13h-5.8z"/>
</g>
<text x="44" y="1023" font-size="17" fill="#d9d9d9" stroke="#d9d9d9" stroke-width="0.45" textLength="96" lengthAdjust="spacingAndGlyphs">TradingView</text>
</svg></body></html>
